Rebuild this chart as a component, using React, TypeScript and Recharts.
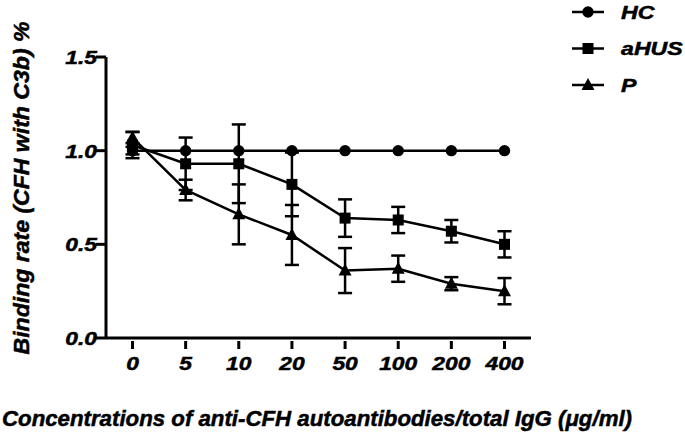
import React from 'react';
import { LineChart, Line, XAxis, YAxis, ErrorBar } from 'recharts';

const CONCENTRATIONS = ['0', '5', '10', '20', '50', '100', '200', '400'];
const HC_VALUES = [1.0, 1.0, 1.0, 1.0, 1.0, 1.0, 1.0, 1.0];
const HC_ERRORS = [0.02, 0, 0, 0, 0, 0, 0, 0];
const AHUS_VALUES = [1.03, 0.93, 0.93, 0.82, 0.64, 0.63, 0.57, 0.5];
const AHUS_ERRORS = [0.07, 0.14, 0.21, 0.17, 0.1, 0.07, 0.06, 0.07];
const P_VALUES = [1.07, 0.79, 0.66, 0.55, 0.36, 0.37, 0.29, 0.25];
const P_ERRORS = [0.03, 0.055, 0.16, 0.16, 0.12, 0.07, 0.035, 0.07];
const Y_TICKS = [0, 0.5, 1.0, 1.5];

const SERIES = [
  { key: 'HC', label: 'HC', shape: 'circle' },
  { key: 'aHUS', label: 'aHUS', shape: 'square' },
  { key: 'P', label: 'P', shape: 'triangle' },
];

const FONT = '"Liberation Sans", Arial, sans-serif';
const INK = '#000';

// shared text style, a thin outline makes the glyphs as heavy as the scan
const TEXT_STYLE = {
  fontFamily: FONT,
  fontWeight: 'bold',
  fontStyle: 'italic',
  fill: INK,
  stroke: INK,
  strokeWidth: 0.5,
} as const;

const data = CONCENTRATIONS.map((c, i) => ({
  name: c,
  HC: HC_VALUES[i],
  HCErr: HC_ERRORS[i],
  aHUS: AHUS_VALUES[i],
  aHUSErr: AHUS_ERRORS[i],
  P: P_VALUES[i],
  PErr: P_ERRORS[i],
}));

function Marker({ cx, cy, shape }: { cx: number; cy: number; shape: string }) {
  if (cx == null || cy == null) return null;
  if (shape === 'circle') return <circle cx={cx} cy={cy} r={5.7} fill={INK} />;
  if (shape === 'square') return <rect x={cx - 5.5} y={cy - 5.5} width={11} height={11} fill={INK} />;
  return <polygon points={`${cx},${cy - 7} ${cx - 6.5},${cy + 5} ${cx + 6.5},${cy + 5}`} fill={INK} />;
}

function XTick({ x, y, payload }: any) {
  return (
    <g>
      <line x1={x} y1={y + 3} x2={x} y2={y + 11} stroke={INK} strokeWidth={3} />
      <text transform={`translate(${x},${y + 32}) scale(1.2,1)`} textAnchor="middle" fontSize={19} {...TEXT_STYLE}>
        {payload.value}
      </text>
    </g>
  );
}

function YTick({ x, y, payload }: any) {
  return (
    <g>
      <line x1={x - 10} y1={y} x2={x} y2={y} stroke={INK} strokeWidth={3} />
      <text transform={`translate(${x - 9},${y + 7}) scale(1.2,1)`} textAnchor="end" fontSize={19} {...TEXT_STYLE}>
        {Number(payload.value).toFixed(1)}
      </text>
    </g>
  );
}

export default function App() {
  return (
    <div style={{ position: 'absolute', left: 0, top: 0, width: 685, height: 434, background: '#fff' }}>
      <LineChart width={685} height={434} data={data} margin={{ top: 57, right: 154, bottom: 36, left: 0 }}>
        <XAxis
          dataKey="name"
          height={60}
          padding={{ left: 26.5, right: 26.5 }}
          tickSize={0}
          tickMargin={0}
          tick={<XTick />}
          axisLine={{ stroke: INK, strokeWidth: 3 }}
          interval={0}
        />
        <YAxis
          width={106}
          domain={[0, 1.5]}
          ticks={Y_TICKS}
          tickSize={0}
          tickMargin={0}
          tick={<YTick />}
          axisLine={{ stroke: INK, strokeWidth: 3 }}
        />
        {SERIES.map((s) => (
          <Line
            key={s.key}
            dataKey={s.key}
            stroke={INK}
            strokeWidth={2.5}
            isAnimationActive={false}
            dot={(props: any) => <Marker key={`${s.key}-${props.index}`} cx={props.cx} cy={props.cy} shape={s.shape} />}
            activeDot={false}
          >
            <ErrorBar dataKey={`${s.key}Err`} width={7} strokeWidth={2.5} stroke={INK} direction="y" />
          </Line>
        ))}
      </LineChart>

      {/* Titles and legend */}
      <svg width={685} height={434} style={{ position: 'absolute', left: 0, top: 0, pointerEvents: 'none' }}>
        <text
          x={29}
          y={188}
          transform="rotate(-90 29 188)"
          textAnchor="middle"
          textLength={333}
          lengthAdjust="spacingAndGlyphs"
          fontSize={22}
          {...TEXT_STYLE}
        >
          Binding rate (CFH with C3b) %
        </text>
        <text x={2} y={426} textLength={630} lengthAdjust="spacingAndGlyphs" fontSize={22} {...TEXT_STYLE}>
          Concentrations of anti-CFH autoantibodies/total IgG (μg/ml)
        </text>
        {SERIES.map((s, i) => {
          const cy = 12 + i * 36.5;
          return (
            <g key={s.key}>
              <line x1={572} y1={cy} x2={604} y2={cy} stroke={INK} strokeWidth={2.5} />
              <Marker cx={588} cy={cy} shape={s.shape} />
              <text transform={`translate(621,${cy + 6.5}) scale(1.22,1)`} fontSize={19} {...TEXT_STYLE}>
                {s.label}
              </text>
            </g>
          );
        })}
      </svg>
    </div>
  );
}
